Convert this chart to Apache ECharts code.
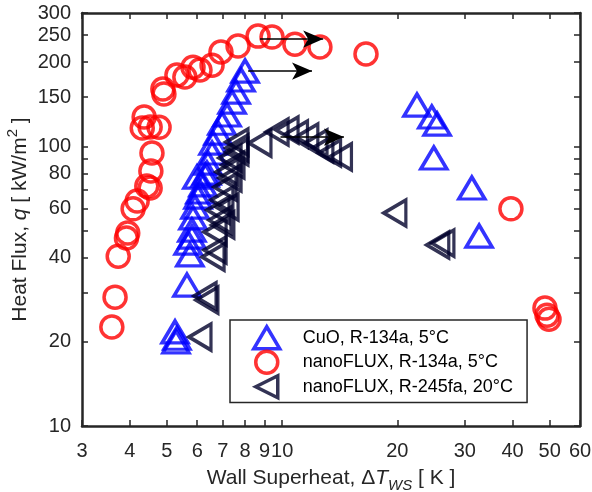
<!doctype html>
<html>
<head>
<meta charset="utf-8">
<title>Heat flux vs wall superheat</title>
<script src="https://cdn.jsdelivr.net/npm/echarts@6/dist/echarts.min.js"></script>
<style>
  html, body { margin: 0; padding: 0; background: #fff; }
  #main { width: 592px; height: 492px; }
</style>
</head>
<body>
<div id="main"></div>
<script>
// ticks (log axes, values in K and kW/m2)
var xTicks = [3, 4, 5, 6, 7, 8, 9, 10, 20, 30, 40, 50, 60];
var yTicks = [10, 20, 30, 40, 50, 60, 70, 80, 90, 100, 150, 200, 250, 300];
var yLabels = [10, 20, 40, 60, 80, 100, 150, 200, 250, 300];

// [wall superheat K, heat flux kW/m2]
var cuo134a = [
  [5.25, 21.7], [5.31, 20.6], [5.28, 20.0], [5.64, 31.9], [5.74, 40.9], [5.68, 45.1],
  [5.81, 47.4], [5.81, 50.2], [5.85, 55.5], [5.92, 60.7], [6.03, 65.9], [6.10, 68.7],
  [6.21, 72.8], [5.99, 77.7], [6.29, 79], [6.36, 80.3], [6.40, 87.2], [6.56, 94.7],
  [6.60, 102.8], [6.80, 111.6], [6.96, 121], [7.18, 129.5], [7.40, 144], [7.58, 156.5],
  [7.81, 172.8], [8.0, 186],
  [22.5, 140.6], [24.6, 127.4], [25.4, 120.2], [24.9, 90.9], [31.3, 71], [32.7, 47.8]
];
var nano134a = [
  [3.59, 22.6], [3.66, 28.9], [3.73, 40.5], [3.92, 47], [3.95, 49], [4.08, 59.8],
  [4.18, 63.8], [4.43, 72.2], [4.52, 71], [4.54, 81.7], [4.57, 94.7], [4.36, 127.4],
  [4.31, 116.4], [4.52, 117.3], [4.77, 117], [4.88, 160.4], [4.91, 153.9], [5.31, 180],
  [5.57, 177], [5.85, 192], [6.10, 187.6], [6.56, 195], [6.92, 217.6], [7.67, 228.6],
  [8.65, 248], [9.41, 246], [10.8, 232], [12.55, 226.7], [16.56, 214],
  [39.6, 59.8], [48.6, 26.4], [49.2, 24.9], [49.8, 24.1]
];
var nano245fa = [
  [6.10, 20.8], [6.29, 29.2], [6.36, 28.2], [6.60, 40.2], [6.68, 42.6], [6.68, 49.4],
  [7.0, 52.4], [6.88, 54.5], [6.80, 59.2], [7.18, 60.7], [6.96, 64.3], [7.09, 71.6],
  [7.31, 77.1], [7.18, 81], [7.44, 85.8], [7.31, 90.9], [7.62, 98.7], [7.62, 95.5],
  [7.62, 103.7], [8.75, 102.8], [9.70, 112.6], [10.3, 114.5], [10.9, 110.7], [11.6, 108],
  [12.26, 102.8], [12.7, 97.9], [13.3, 94.7], [14.2, 91.7],
  [19.7, 57.8], [25.5, 44.4], [26.3, 45.1]
];
// arrows: [from, to]
var arrows = [
  [[8.75, 242], [12.8, 242]],
  [[8.15, 186], [11.97, 186]],
  [[9.9, 108], [14.5, 108]]
];

var lg = Math.log10;
function toLog(arr) { return arr.map(function (p) { return [lg(p[0]), lg(p[1])]; }); }
var ink = '#262626';
var font = 'Liberation Sans, Arial, sans-serif';

function axisBase(ticks, labels, isX, main) {
  return {
    type: 'value',
    position: isX ? (main ? 'bottom' : 'top') : (main ? 'left' : 'right'),
    min: isX ? lg(3) : lg(10),
    max: isX ? lg(60) : lg(300),
    splitLine: { show: false },
    axisLine: { show: true, onZero: false, lineStyle: { color: ink, width: 2.5 } },
    axisTick: {
      show: true, inside: true, length: 6,
      customValues: ticks.map(lg),
      lineStyle: { color: ink, width: 1.5 }
    },
    axisLabel: {
      show: main,
      customValues: labels.map(lg),
      margin: isX ? 15 : 11,
      color: ink, fontSize: 20, fontFamily: font,
      formatter: function (v) { return String(Math.round(Math.pow(10, v))); }
    }
  };
}

var xMain = axisBase(xTicks, xTicks, true, true);
xMain.name = 'Wall Superheat, Δ{i|T}{sub|WS} [ K ]';
xMain.nameLocation = 'middle';
xMain.nameGap = 37;
xMain.nameMoveOverlap = false;
xMain.nameTextStyle = {
  color: ink, fontSize: 21, fontFamily: font, lineHeight: 30,
  rich: {
    i: { fontStyle: 'italic', fontSize: 21, fontFamily: font, color: ink, lineHeight: 30 },
    sub: { fontStyle: 'italic', fontSize: 15, fontFamily: font, color: ink, lineHeight: 15, verticalAlign: 'bottom' }
  }
};
var yMain = axisBase(yTicks, yLabels, false, true);
yMain.name = 'Heat Flux, {i|q} [ kW/m{sup|2} ]';
yMain.nameLocation = 'middle';
yMain.nameRotate = 90;
yMain.nameGap = 47;
yMain.nameMoveOverlap = false;
yMain.nameTextStyle = {
  color: ink, fontSize: 21, fontFamily: font, lineHeight: 30,
  rich: {
    i: { fontStyle: 'italic', fontSize: 21, fontFamily: font, color: ink, lineHeight: 30 },
    sup: { fontSize: 15, fontFamily: font, color: ink, lineHeight: 15, verticalAlign: 'top' }
  }
};

var leftTri = 'path://M0,12 L24,0 L24,24 Z';

var chart = echarts.init(document.getElementById('main'), null, { renderer: 'canvas' });
chart.setOption({
  animation: false,
  backgroundColor: '#fff',
  grid: { left: 82, right: 12, top: 13, bottom: 66, containLabel: false, outerBoundsMode: 'none' },
  xAxis: [xMain, axisBase(xTicks, xTicks, true, false)],
  yAxis: [yMain, axisBase(yTicks, yLabels, false, false)],
  legend: {
    orient: 'vertical',
    left: 230, top: 320,
    padding: [5, 14, 3, 22],
    itemGap: -1,
    itemWidth: 26, itemHeight: 22,
    backgroundColor: '#fff',
    borderColor: ink, borderWidth: 1.5,
    itemStyle: { borderWidth: 3.5 },
    formatter: function (n) { return '{t|' + n + '}'; },
    textStyle: {
      color: '#000', fontSize: 18, fontFamily: font,
      rich: { t: { color: '#000', fontSize: 18, fontFamily: font, lineHeight: 22, padding: [0, 0, 0, 18] } }
    },
    data: ['CuO, R-134a, 5°C', 'nanoFLUX, R-134a, 5°C', 'nanoFLUX, R-245fa, 20°C']
  },
  series: [
    {
      name: 'CuO, R-134a, 5°C', type: 'scatter', data: toLog(cuo134a),
      symbol: 'triangle', symbolSize: [26, 22],
      itemStyle: { color: 'rgba(0,0,0,0)', borderColor: '#0000ff', borderWidth: 3.5 },
      z: 3
    },
    {
      name: 'nanoFLUX, R-134a, 5°C', type: 'scatter', data: toLog(nano134a),
      symbol: 'circle', symbolSize: 22,
      itemStyle: { color: 'rgba(0,0,0,0)', borderColor: '#ff0000', borderWidth: 3.5 },
      z: 2
    },
    {
      name: 'nanoFLUX, R-245fa, 20°C', type: 'scatter', data: toLog(nano245fa),
      symbol: leftTri, symbolSize: [22, 26], symbolKeepAspect: false,
      itemStyle: { color: 'rgba(0,0,0,0)', borderColor: '#00002b', borderWidth: 3.5 },
      z: 4
    },
    {
      name: 'arrows', type: 'line', data: [], z: 5,
      markLine: {
        silent: true, animation: false,
        symbol: ['none', 'arrow'], symbolSize: [13, 20],
        label: { show: false },
        lineStyle: { color: '#000', width: 1.5, type: 'solid' },
        data: arrows.map(function (a) {
          return [{ coord: [lg(a[0][0]), lg(a[0][1])] }, { coord: [lg(a[1][0]), lg(a[1][1])] }];
        })
      }
    }
  ]
});
</script>
</body>
</html>
